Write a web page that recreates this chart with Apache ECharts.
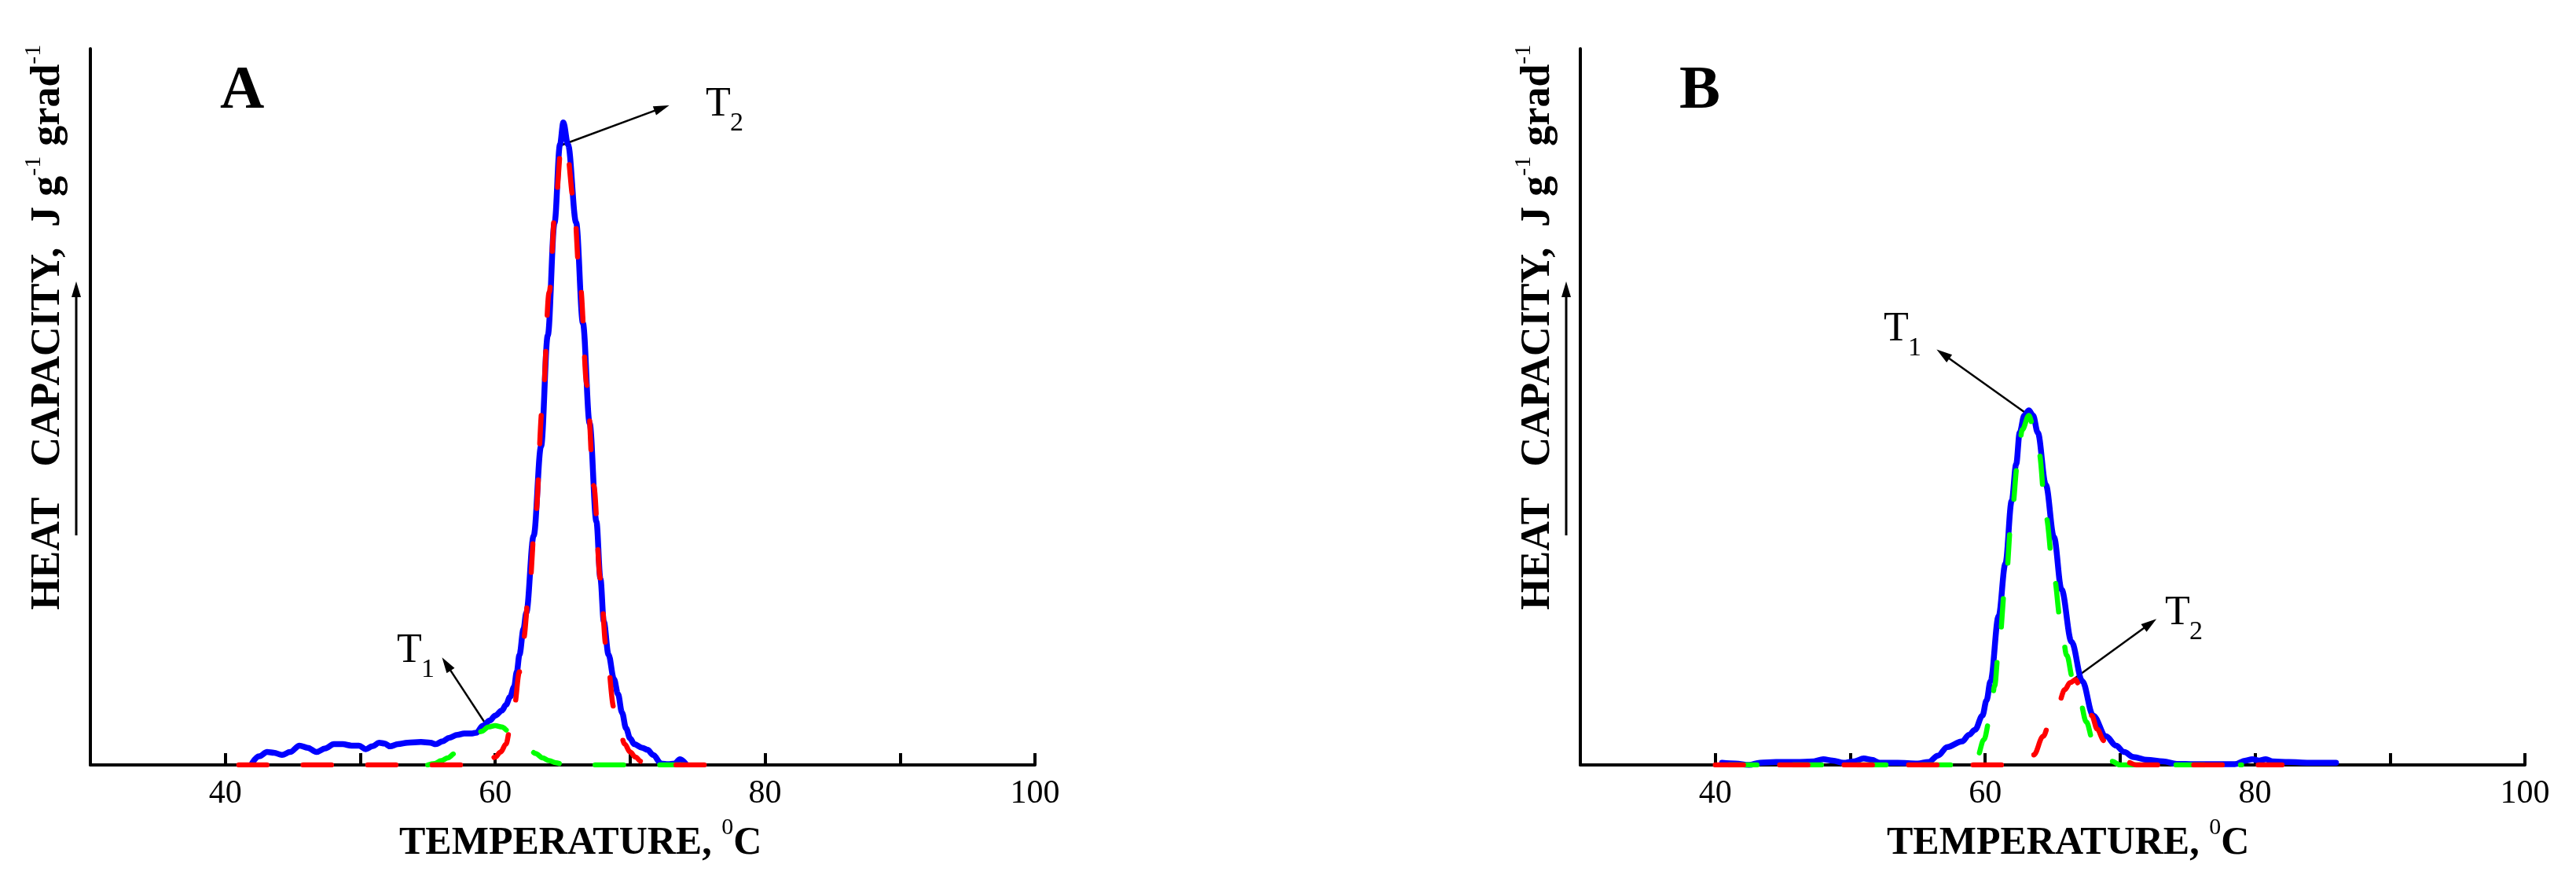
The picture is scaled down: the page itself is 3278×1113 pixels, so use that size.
<!DOCTYPE html>
<html><head><meta charset="utf-8">
<script src="https://cdn.jsdelivr.net/npm/echarts/dist/echarts.min.js"></script>
<style>html,body{margin:0;padding:0;background:#fff}#c{width:3278px;height:1113px}</style>
</head><body><div id="c"></div>
<script>
// ---- data (temperature °C, heat capacity in arbitrary units 0..100) ----
const xTickLabels = [40, 60, 80, 100];

const blueA = [[42.0,0.3],[42.5,1.2],[43.1,1.8],[43.6,1.7],[44.2,1.4],[44.8,1.8],[45.5,2.7],[46.1,2.4],[46.75,1.8],[47.4,2.3],[48.05,2.9],[48.7,2.9],[49.35,2.7],[49.9,2.7],[50.4,2.2],[50.9,2.6],[51.4,3.1],[51.8,3.0],[52.2,2.6],[52.8,2.9],[53.5,3.1],[54.5,3.2],[55.2,3.1],[55.6,2.9],[56.1,3.3],[56.6,3.8],[57.2,4.2],[57.7,4.4],[58.3,4.4],[58.6,4.5],[59.1,5.5],[59.6,6.2],[60.0,6.9],[60.5,7.6],[60.8,8.4],[61.1,9.5],[61.4,10.9],[61.6,13.0],[61.8,15.4],[62.1,19.0],[62.3,21.2],[62.85,32.0],[63.4,44.5],[63.9,60.0],[64.4,75.7],[64.8,86.6],[65.05,89.7],[65.4,86.6],[66.0,75.7],[66.5,61.7],[67.0,47.7],[67.5,34.0],[67.8,26.0],[68.05,20.0],[68.4,15.4],[68.8,12.0],[69.1,9.9],[69.4,7.3],[69.7,5.1],[70.0,3.7],[70.3,2.9],[70.9,2.4],[71.3,2.1],[71.7,1.4],[72.3,0.2],[72.8,0.1],[73.3,0.2],[73.7,0.8],[74.1,0.2]];
const redA = [[41.0,0],[59.0,0],[59.5,0.3],[60.0,1.1],[60.4,1.8],[60.8,2.9],[61.1,5.0],[61.4,8.0],[61.8,13.0],[62.1,17.6],[62.5,24.0],[63.0,35.0],[63.5,50.0],[64.0,66.0],[64.5,79.0],[64.9,86.5],[65.3,86.0],[65.8,79.0],[66.3,67.0],[66.8,53.0],[67.3,39.0],[67.8,26.0],[68.2,16.8],[68.8,8.0],[69.2,5.0],[69.6,2.9],[70.0,1.8],[70.4,1.1],[70.8,0.5],[71.2,0.2],[71.6,0],[76.0,0]];
const greenA = [[55.0,0],[55.5,0.2],[56.0,0.6],[56.5,1.0],[57.0,1.6],[57.5,2.3],[58.0,3.1],[58.5,3.9],[59.0,4.7],[59.5,5.3],[60.0,5.5],[60.5,5.3],[61.0,4.7],[61.5,3.9],[62.0,3.0],[62.5,2.2],[63.0,1.6],[63.5,1.0],[64.0,0.6],[64.5,0.3],[65.0,0.1],[65.5,0],[74.0,0]];

const blueB = [[40.5,0.3],[41.5,0.2],[42.5,0],[43.3,0.3],[44.5,0.4],[46.0,0.4],[47.3,0.5],[48.0,0.8],[48.7,0.6],[49.5,0.3],[50.3,0.5],[51.0,0.9],[51.6,0.7],[52.2,0.3],[53.5,0.3],[55.0,0.2],[55.8,0.4],[56.5,1.3],[57.2,2.5],[58.3,3.3],[58.8,4.2],[59.25,4.9],[59.8,6.9],[60.1,9.0],[60.4,11.7],[61.0,20.8],[61.5,28.1],[61.97,36.9],[62.3,42.0],[62.56,46.4],[62.9,48.8],[63.24,49.5],[63.55,48.8],[63.9,46.4],[64.5,39.1],[65.1,31.8],[65.66,24.5],[66.4,17.2],[67.2,11.7],[68.0,6.9],[68.96,4.0],[69.7,2.7],[70.3,1.8],[71.0,1.1],[72.0,0.7],[73.2,0.5],[74.2,0.15],[75.5,0.1],[77.0,0.1],[78.5,0.1],[79.3,0.6],[79.8,0.8],[80.3,0.6],[80.8,0.8],[81.3,0.5],[82.5,0.4],[84.0,0.3],[86.0,0.3]];
const greenB = [[41.0,0],[59.0,0],[59.4,1.0],[59.9,3.5],[60.4,6.9],[60.7,11.0],[61.0,16.1],[61.5,25.2],[62.0,35.5],[62.4,42.0],[62.75,46.8],[63.24,48.8],[63.6,47.0],[64.0,43.5],[64.5,34.7],[65.1,26.3],[65.6,20.0],[66.05,15.3],[66.5,12.0],[67.0,9.1],[67.5,6.0],[68.0,3.3],[68.6,1.6],[69.4,0.5],[70.0,0],[79.0,0]];
const redB = [[40.0,0],[62.5,0],[63.1,0.5],[63.6,1.4],[64.3,4.0],[64.8,6.0],[65.4,8.4],[65.9,10.5],[66.3,11.5],[66.7,11.9],[67.0,11.0],[67.4,9.2],[67.9,6.9],[68.3,5.0],[68.8,3.4],[69.3,2.0],[69.9,1.0],[70.5,0.4],[71.2,0],[82.0,0]];

// arrow annotations: [fromT, fromV, toT, toV]
const arrowsA = [[64.85,86.5,72.9,92.1],[59.44,5.3,56.06,15.0]];
const arrowsB = [[63.26,48.8,56.4,58.0],[66.5,11.9,72.7,20.4]];

// ---- chart ----
const FF = '"Liberation Serif","Times New Roman",serif';
const chart = echarts.init(document.getElementById('c'), null, {renderer:'canvas'});

function xAxisCfg(gi){
  return {type:'value', gridIndex:gi, min:30, max:100, interval:10,
    axisLine:{show:true, onZero:false, lineStyle:{color:'#000', width:4}},
    axisTick:{show:true, inside:true, length:15, lineStyle:{color:'#000', width:4}},
    axisLabel:{show:true, margin:16, fontSize:42, fontFamily:FF, color:'#000',
      formatter:v => xTickLabels.indexOf(v) >= 0 ? String(v) : ''},
    splitLine:{show:false}};
}
function yAxisCfg(gi){
  return {type:'value', gridIndex:gi, min:0, max:100,
    axisLine:{show:true, onZero:false, lineStyle:{color:'#000', width:4}},
    axisTick:{show:false}, axisLabel:{show:false}, splitLine:{show:false}};
}
function ser(data, color, dashed, gi, z){
  return {type:'line', xAxisIndex:gi, yAxisIndex:gi, data, symbol:'none', showSymbol:false,
    smooth:0.35, smoothMonotone:'x', silent:true, z,
    lineStyle:{color, width: dashed ? 6.5 : 7.5, type: dashed ? [36,46] : 'solid', cap:'round', join:'round'}};
}

chart.setOption({
  animation:false,
  backgroundColor:'#fff',
  grid:[{left:115, top:62, width:1202, height:911, containLabel:false},
        {left:2011, top:62, width:1202, height:911, containLabel:false}],
  xAxis:[xAxisCfg(0), xAxisCfg(1)],
  yAxis:[yAxisCfg(0), yAxisCfg(1)],
  series:[
    ser(blueA,'#0000ff',false,0,2), ser(greenA,'#00ff00',true,0,3), ser(redA,'#ff0000',true,0,4),
    ser(blueB,'#0000ff',false,1,2), ser(greenB,'#00ff00',true,1,3), ser(redB,'#ff0000',true,1,4)
  ]
});

// ---- annotations ----
const mctx = document.createElement('canvas').getContext('2d');
function W(s, fs, bold){ mctx.font = (bold?'bold ':'') + fs + 'px ' + FF; return mctx.measureText(s).width; }
function T(x, baseline, s, fs, bold){
  return {type:'text', x, y: baseline - 0.32*fs, silent:true,
    style:{text:s, fontSize:fs, fontFamily:FF, fontWeight: bold?'bold':'normal', fill:'#000', align:'left', verticalAlign:'middle'}};
}
function arrow(p1, p2, lw, L, hw){
  const dx=p2[0]-p1[0], dy=p2[1]-p1[1], d=Math.hypot(dx,dy), ux=dx/d, uy=dy/d, nx=-uy, ny=ux;
  const bx=p2[0]-ux*L, by=p2[1]-uy*L;
  return [
    {type:'line', silent:true, shape:{x1:p1[0], y1:p1[1], x2:bx+ux*2, y2:by+uy*2}, style:{stroke:'#000', lineWidth:lw}},
    {type:'polygon', silent:true, shape:{points:[[p2[0],p2[1]],[bx+nx*hw,by+ny*hw],[bx-nx*hw,by-ny*hw]]}, style:{fill:'#000'}}
  ];
}
const els = [];
function yTitle(bx, by){
  const fs=52, sfs=30, raise=25;
  const p1='HEAT   CAPACITY,  J g', s1='-1', p2=' grad', s2='-1';
  const w1=W(p1,fs,true), ws=W(s1,sfs,false), w2=W(p2,fs,true);
  els.push({type:'group', x:bx, y:by, rotation:Math.PI/2, children:[
    T(0,0,p1,fs,true), T(w1,-raise,s1,sfs,false), T(w1+ws,0,p2,fs,true), T(w1+ws+w2,-raise,s2,sfs,false)
  ]});
  arrow([bx+19,681],[bx+19,358],3,20,6).forEach(e=>els.push(e));
}
function xTitle(x0, base){
  const fs=50, sfs=30;
  const m='TEMPERATURE, ', wm=W(m,fs,true), w0=W('0',sfs,false);
  els.push(T(x0,base,m,fs,true), T(x0+wm,base-26,'0',sfs,false), T(x0+wm+w0,base,'C',fs,true));
}
function tLabel(x, base, sub){
  els.push(T(x,base,'T',52,false), T(x+31,base+18,sub,34,false));
}
const DX = 1896;
yTitle(78,776); yTitle(78+DX,776);
xTitle(508,1089); xTitle(2401,1089);
els.push(T(280,142,'A',78,true), T(2137,142,'B',78,true));
tLabel(898,150,'2'); tLabel(505,845,'1');
tLabel(2397,436,'1'); tLabel(2755,797,'2');
function addArrows(list, gi){
  list.forEach(a=>{
    const p1=chart.convertToPixel({xAxisIndex:gi,yAxisIndex:gi},[a[0],a[1]]);
    const p2=chart.convertToPixel({xAxisIndex:gi,yAxisIndex:gi},[a[2],a[3]]);
    arrow(p1,p2,2.5,20,6).forEach(e=>els.push(e));
  });
}
addArrows(arrowsA,0); addArrows(arrowsB,1);
chart.setOption({graphic:{elements:els}});
</script>
</body></html>
